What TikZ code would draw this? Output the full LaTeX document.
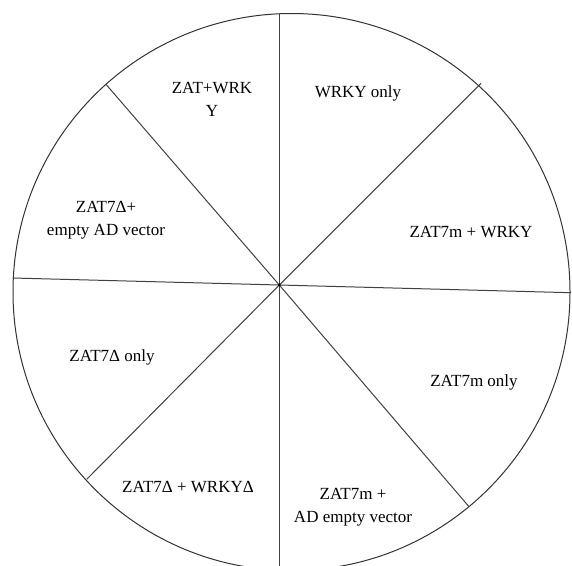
\documentclass[tikz,border=0pt]{standalone}
\usepackage{fontspec}
\setmainfont{Liberation Serif}
\begin{document}
\begin{tikzpicture}[x=1pt, y=-1pt,
    spoke/.style={draw=black!75, line width=1pt},
    lbl/.style={align=center, font=\fontsize{17}{23}\selectfont, inner sep=0pt}]
    \useasboundingbox (0,0) rectangle (572,565);
    \draw[line width=1pt, black!80] (291.5,292) circle (278.5pt);
    \coordinate (mid) at (279.3,285);
    % rim points of the eight spokes
    \foreach \name/\x/\y in {top/279.3/14, bot/279.3/570, w/12.7/278, e/571/292.7,
        nw/105.7/84, ne/481/83.3, sw/86.7/479.3, se/469/506.7}
        \coordinate (\name) at (\x,\y);
    \foreach \p in {top,bot,w,e,nw,ne,sw,se}
        \draw[spoke] (mid) -- (\p);
    \fill (mid) circle (1.5pt);
    % sector labels
    \node[lbl] (zatwrky) at (212,99) {ZAT+WRK\\Y};
    \node[lbl] (wrkyonly) at (358,93) {WRKY only};
    \node[lbl] (zatdad) at (106,220) {ZAT7Δ+\\empty AD vector};
    \node[lbl] (zatmwrky) at (471,232) {ZAT7m + WRKY};
    \node[lbl] (zatdonly) at (112,357) {ZAT7Δ only};
    \node[lbl] (zatmonly) at (474,382) {ZAT7m only};
    \node[lbl] (zatdwrkyd) at (188,487) {ZAT7Δ + WRKYΔ};
    \node[lbl] (zatmad) at (353,507) {ZAT7m +\\AD empty vector};
\end{tikzpicture}
\end{document}
